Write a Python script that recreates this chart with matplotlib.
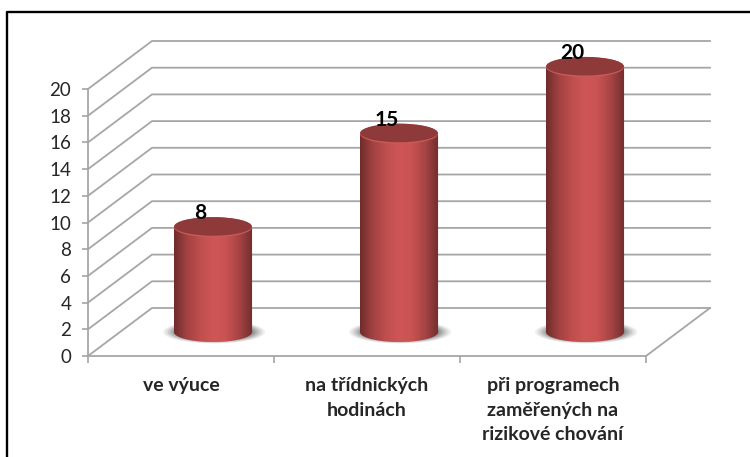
import matplotlib
matplotlib.use("Agg")
import matplotlib.pyplot as plt
import numpy as np
from matplotlib.colors import LinearSegmentedColormap
from matplotlib.patches import Ellipse, Polygon

categories = ["ve výuce", "na třídnických\nhodinách", "při programech\nzaměřených na\nrizikové chování"]
values = [8, 15, 20]
yticks = list(range(0, 21, 2))

W, H = 750, 457
GRID = "#a6a6a6"
TEXT = "#262626"
# depth of the fake 3D box, in data units
DX = 64 / 186
DY = 48 / 13.35
BAR_W = 0.42
ELL_H = 20 / 13.35

plt.rcParams["font.family"] = ["Lato", "DejaVu Sans"]

fig = plt.figure(figsize=(W / 100, H / 100), dpi=100)
ax = fig.add_axes([88 / W, 1 - 356 / H, 558 / W, 267 / H])
ax.patch.set_alpha(0)

# back wall lines + side wall + floor
for v in yticks:
    ax.plot([0, DX, 3 + DX], [v, v + DY, v + DY], color=GRID, lw=1.3, clip_on=False, zorder=1)
ax.plot([3, 3 + DX], [0, DY], color=GRID, lw=1.3, clip_on=False, zorder=1)

cmap = LinearSegmentedColormap.from_list(
    "cyl", ["#6f2c2c", "#a34242", "#c04e4e", "#cf5656", "#c85252", "#a54343", "#702d2d"]
)
t = np.linspace(np.pi, 2 * np.pi, 60)

for i, val in enumerate(values):
    cx = i + 0.5 + DX / 2
    base = DY / 2
    top = val + DY / 2 - 0.15

    # soft shadow on the floor
    for k, a in zip(np.linspace(1.0, 0.72, 7), [0.08, 0.1, 0.13, 0.16, 0.2, 0.24, 0.28]):
        ax.add_patch(Ellipse((cx + 0.006, base), BAR_W * 1.31 * k, ELL_H * 1.15 * k,
                             fc="#4a4a4a", ec="none", alpha=a, clip_on=False, zorder=2))

    # body with horizontal shading, clipped to the cylinder outline
    xs = cx + BAR_W / 2 * np.cos(t)
    ys = base + ELL_H / 2 * np.sin(t)
    outline = np.vstack([np.column_stack([xs, ys]), [[cx + BAR_W / 2, top], [cx - BAR_W / 2, top]]])
    body = Polygon(outline, closed=True, fc="none", ec="none", transform=ax.transData)
    ax.add_patch(body)
    grad = np.linspace(0, 1, 256).reshape(1, -1)
    im = ax.imshow(grad, cmap=cmap, aspect="auto", zorder=3,
                   extent=(cx - BAR_W / 2, cx + BAR_W / 2, base - ELL_H, top + ELL_H))
    im.set_clip_box(fig.bbox)
    im.set_clip_path(body)

    # lid
    ax.add_patch(Ellipse((cx, top), BAR_W, ELL_H, fc="#c95a58", ec="none", clip_on=False, zorder=4))
    ax.add_patch(Ellipse((cx, top + 0.06), BAR_W * 0.995, ELL_H * 0.93, fc="#8e3a3a", ec="none", clip_on=False, zorder=5))

    ax.text(i + 0.5 + 0.105, top + 1.05, str(val), ha="center", va="center", fontsize=15,
            fontweight="bold", color="black", clip_on=False, zorder=6)

ax.set_xlim(0, 3)
ax.set_ylim(0, 20)
ax.set_yticks(yticks)
ax.set_xticks(range(4))
ax.set_xticklabels([])
ax.set_xticks(np.arange(3) + 0.5, labels=categories, minor=True)
ax.tick_params(axis="x", which="major", length=5, width=1.2, color=GRID)
ax.tick_params(axis="x", which="minor", length=0, pad=15, labelsize=14, labelcolor=TEXT)
ax.tick_params(axis="y", length=4.5, width=1.2, color=GRID, labelsize=13.5, labelcolor=TEXT, pad=7.5)
for lab in ax.get_xminorticklabels():
    lab.set_fontweight("bold")
    lab.set_linespacing(1.55)
for side in ("top", "right"):
    ax.spines[side].set_visible(False)
for side in ("left", "bottom"):
    ax.spines[side].set_color(GRID)
    ax.spines[side].set_linewidth(1.3)

# black frame of the pasted picture
fig.add_artist(plt.Line2D([7 / W, 7 / W, 1], [0, 1 - 12 / H, 1 - 12 / H], color="black", lw=1.7))

fig.savefig("out.png", dpi=100)
